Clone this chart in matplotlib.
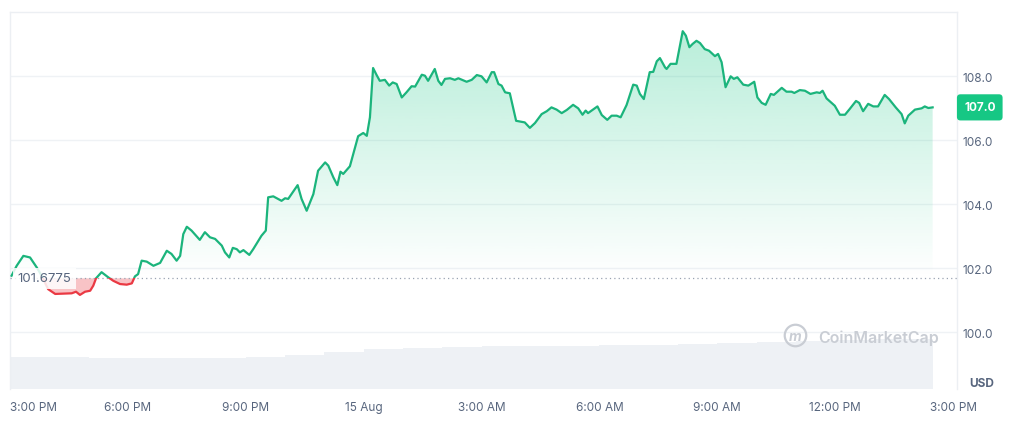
import numpy as np
import matplotlib
matplotlib.use("Agg")
import matplotlib.pyplot as plt
import matplotlib.transforms as mtransforms
from matplotlib.path import Path
from matplotlib.patches import PathPatch, Rectangle

plt.rcParams['font.family'] = ['Inter', 'DejaVu Sans']

# hours since 3:00 PM (14 Aug) and price in USD
hours = [0.04, 0.17, 0.34, 0.51, 0.68, 0.81, 0.97, 1.15, 1.57, 1.68, 1.78, 1.91, 2.04, 2.12, 2.19,
         2.33, 2.50, 2.63, 2.80, 2.97, 3.10, 3.18, 3.26, 3.35, 3.48, 3.65, 3.82, 3.99, 4.11, 4.24,
         4.33, 4.41, 4.50, 4.62, 4.83, 4.96, 5.09, 5.22, 5.39, 5.47, 5.58, 5.67, 5.77, 5.85, 5.94,
         6.09, 6.19, 6.40, 6.51, 6.57, 6.70, 6.91, 7.00, 7.08, 7.32, 7.42, 7.55, 7.72, 7.84, 8.02,
         8.10, 8.23, 8.33, 8.41, 8.48, 8.65, 8.78, 8.86, 8.99, 9.08, 9.16, 9.24, 9.33, 9.41, 9.54,
         9.65, 9.74, 9.84, 9.97, 10.09, 10.22, 10.31, 10.48, 10.56, 10.64, 10.81, 10.90, 10.98, 11.07,
         11.20, 11.32, 11.41, 11.62, 11.75, 11.88, 12.00, 12.13, 12.26, 12.32, 12.43, 12.51, 12.60,
         12.72, 12.88, 13.02, 13.10, 13.23, 13.36, 13.53, 13.66, 13.78, 13.91, 14.04, 14.17, 14.33,
         14.46, 14.57, 14.65, 14.71, 14.95, 15.06, 15.20, 15.31, 15.44, 15.54, 15.69, 15.86, 15.95,
         16.03, 16.13, 16.28, 16.37, 16.46, 16.54, 16.67, 16.71, 16.81, 16.96, 17.12, 17.20, 17.29,
         17.37, 17.47, 17.56, 17.68, 17.79, 17.94, 18.02, 18.11, 18.21, 18.34, 18.42, 18.51, 18.66,
         18.79, 18.94, 19.02, 19.13, 19.23, 19.36, 19.44, 19.64, 19.76, 19.89, 19.96, 20.10, 20.23,
         20.37, 20.53, 20.61, 20.68, 20.78, 20.99, 21.12, 21.25, 21.37, 21.53, 21.61, 21.71, 21.84,
         21.97, 22.09, 22.26, 22.37, 22.54, 22.69, 22.77, 22.86, 23.03, 23.20, 23.28, 23.37, 23.48]
price = [101.76, 102.07, 102.38, 102.33, 102.02, 101.75, 101.34, 101.19, 101.21, 101.26, 101.16, 101.26,
         101.29, 101.45, 101.68, 101.87, 101.71, 101.60, 101.50, 101.48, 101.52, 101.74, 101.81, 102.23,
         102.20, 102.07, 102.16, 102.54, 102.44, 102.23, 102.38, 103.06, 103.29, 103.17, 102.88, 103.12,
         102.96, 102.91, 102.70, 102.49, 102.33, 102.63, 102.59, 102.49, 102.56, 102.41, 102.59, 103.01,
         103.17, 104.21, 104.24, 104.10, 104.18, 104.16, 104.59, 104.16, 103.79, 104.31, 105.04, 105.30,
         105.20, 104.83, 104.59, 105.01, 104.94, 105.18, 105.77, 106.12, 106.22, 106.13, 106.71, 108.25,
         108.03, 107.85, 107.88, 107.70, 107.80, 107.75, 107.33, 107.49, 107.68, 107.67, 108.04, 108.01,
         107.85, 108.22, 107.85, 107.72, 107.91, 107.93, 107.88, 107.93, 107.82, 107.88, 108.03, 107.99,
         107.80, 108.12, 108.12, 107.75, 107.70, 107.49, 107.46, 106.60, 106.57, 106.55, 106.38, 106.53,
         106.81, 106.90, 107.02, 106.95, 106.84, 106.94, 107.10, 106.99, 106.79, 106.92, 106.84, 107.05,
         106.78, 106.63, 106.76, 106.76, 106.71, 107.09, 107.73, 107.70, 107.44, 107.28, 108.12, 108.13,
         108.46, 108.56, 108.27, 108.22, 108.38, 108.38, 109.40, 109.26, 108.90, 109.00, 109.10, 109.03,
         108.84, 108.79, 108.62, 108.69, 108.43, 107.65, 107.99, 107.91, 107.96, 107.73, 107.70, 107.82,
         107.33, 107.16, 107.10, 107.44, 107.41, 107.63, 107.51, 107.51, 107.47, 107.56, 107.54, 107.44,
         107.49, 107.47, 107.54, 107.30, 107.07, 106.79, 106.79, 106.97, 107.22, 107.16, 106.90, 107.13,
         107.05, 107.05, 107.41, 107.28, 107.02, 106.81, 106.52, 106.76, 106.95, 106.99, 107.05, 107.00,
         107.02]
baseline = 101.6775

# hourly volume (arbitrary units)
vol_hours = list(range(24))
volume = [3.23, 3.20, 3.15, 3.10, 3.10, 3.10, 3.20, 3.40, 3.70, 4.00, 4.10, 4.20,
          4.30, 4.30, 4.35, 4.40, 4.45, 4.55, 4.60, 4.70, 4.85, 4.90, 5.00, 5.05]

tick_hours = [0, 3, 6, 9, 12, 15, 18, 21, 24]
tick_labels = ["3:00 PM", "6:00 PM", "9:00 PM", "15 Aug", "3:00 AM", "6:00 AM",
               "9:00 AM", "12:00 PM", "3:00 PM"]
y_ticks = [100, 102, 104, 106, 108]

green = "#16c784"
line_green = "#1bb47c"
red = "#ea3943"
grey_txt = "#58667e"
grid_c = "#eff2f5"

x = np.array(hours)
y = np.array(price)

fig = plt.figure(figsize=(10.16, 4.35), dpi=100)
ax = fig.add_axes([10 / 1016, 45 / 435, 947 / 1016, 377 / 435])
ax.set_xlim(0, 24.1)
ax.set_ylim(98.22, 110)

# volume on a twin axis
axv = ax.twinx()
axv.set_ylim(0, 37.7)
widths = [1.0] * (len(vol_hours) - 1) + [0.5]
axv.bar(vol_hours, volume, width=widths, align='edge', color="#eef1f5", edgecolor="none", zorder=1)
axv.set_yticks([])
for s in axv.spines.values():
    s.set_visible(False)
ax.set_zorder(axv.get_zorder() + 1)
ax.patch.set_visible(False)

# grid
for v in y_ticks:
    ax.axhline(v, color=grid_c, lw=1, zorder=0)

# green gradient fill above baseline
poly = ax.fill_between(x, y, baseline, where=y >= baseline, interpolate=True,
                       facecolor="none", edgecolor="none")
path = Path.make_compound_path(*poly.get_paths())
clip = PathPatch(path, transform=ax.transData, facecolor="none", edgecolor="none")
ax.add_patch(clip)
n = 256
alpha = np.linspace(0.33, 0.0, n)
grad = np.zeros((n, 1, 4))
grad[..., 0], grad[..., 1], grad[..., 2] = 22 / 255, 199 / 255, 132 / 255
grad[:, 0, 3] = alpha
im = ax.imshow(grad, extent=[0, 24.1, baseline, 110], aspect="auto", origin="upper", zorder=2)
im.set_clip_path(clip)

# red fill below baseline
ax.fill_between(x, y, baseline, where=y < baseline, interpolate=True,
                facecolor=red, alpha=0.3, edgecolor="none", zorder=2)

# line: green above baseline, red below
lg, = ax.plot(x, y, color=line_green, lw=1.6, zorder=4, solid_joinstyle="round")
lr, = ax.plot(x, y, color=red, lw=1.6, zorder=4, solid_joinstyle="round")
lg.set_clip_path(Rectangle((0, baseline), 30, 20, transform=ax.transData))
lr.set_clip_path(Rectangle((0, 90), 30, baseline - 90, transform=ax.transData))

# dotted baseline
ax.axhline(baseline, color="#9aa3b2", lw=0.9, ls=(0, (1, 2.5)), zorder=3)
ax.text(0.2, baseline, "101.6775", fontsize=9.5, color=grey_txt, va="center", ha="left",
        zorder=6, bbox=dict(boxstyle="square,pad=0.35", fc="white", ec="none", alpha=0.85))

# spines
for side in ["top", "left", "right"]:
    ax.spines[side].set_color("#eceff3")
    ax.spines[side].set_linewidth(1)
ax.spines["bottom"].set_visible(False)

# ticks
ax.yaxis.tick_right()
ax.set_yticks(y_ticks)
ax.set_yticklabels([f"{v:.1f}" for v in y_ticks])
ax.tick_params(axis="y", length=0, pad=4.3, labelsize=8.5, labelcolor=grey_txt)
ax.set_xticks(tick_hours)
ax.set_xticklabels(tick_labels)
ax.tick_params(axis="x", length=0, pad=8.4, labelsize=8.5, labelcolor=grey_txt)
xl = ax.get_xticklabels()
xl[0].set_ha("left")

ax.text(1.013, 0.015, "USD", transform=ax.transAxes, fontsize=8.5, fontweight="bold",
        color=grey_txt, ha="left", va="center")

# current price tag
tr = mtransforms.blended_transform_factory(ax.transAxes, ax.transData)
ax.text(1.0074, y[-1], f"{y[-1]:.1f}", transform=tr, fontsize=8.5, fontweight="bold",
        color="white", ha="left", va="center", clip_on=False, zorder=7,
        bbox=dict(boxstyle="round,pad=0.6,rounding_size=0.3", fc=green, ec="none"))

# watermark
ax.plot([0.829], [0.143], marker="o", ms=15.5, mfc="none", mec="#c9cdd4", mew=1.6,
        transform=ax.transAxes, zorder=5)
ax.text(0.829, 0.140, "m", transform=ax.transAxes, fontsize=10, fontweight="bold",
        fontstyle="italic", color="#c9cdd4", ha="center", va="center", zorder=5)
ax.text(0.853, 0.138, "CoinMarketCap", transform=ax.transAxes, fontsize=11.5,
        fontweight="semibold", color="#c9cdd4", ha="left", va="center", zorder=5)

fig.savefig("out.png", dpi=100)
